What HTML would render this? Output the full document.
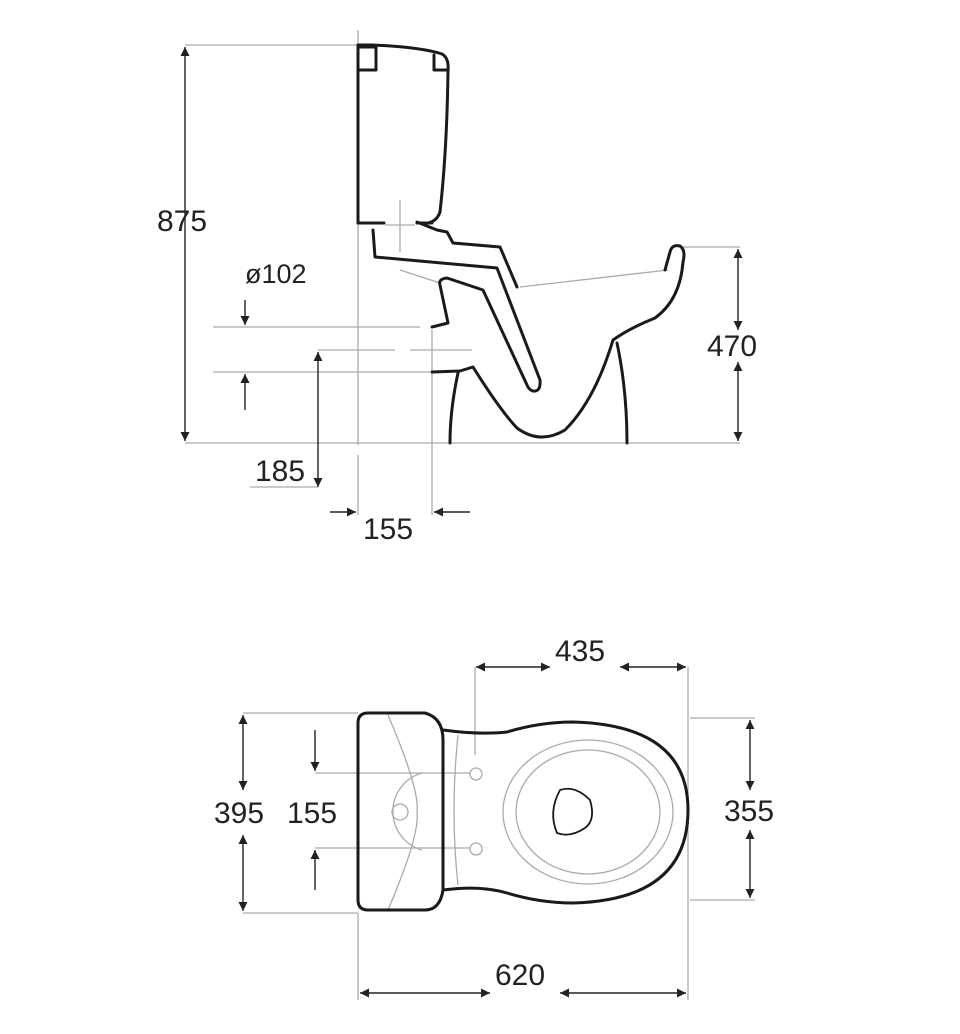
<!DOCTYPE html>
<html><head><meta charset="utf-8"><style>
html,body{margin:0;padding:0;background:#fff;}
svg{display:block;}
text{font-family:"Liberation Sans",sans-serif;font-size:30px;fill:#222;}
</style></head><body>
<svg width="960" height="1034" viewBox="0 0 960 1034" xmlns="http://www.w3.org/2000/svg">
<defs>
<marker id="a" viewBox="0 0 10 10" refX="10" refY="5" markerWidth="12" markerHeight="9" orient="auto-start-reverse" markerUnits="userSpaceOnUse"><path d="M0,0 L10,5 L0,10 Z" fill="#222"/></marker>
</defs>
<g stroke="#aaa" stroke-width="1.3" fill="none">
<line x1="185" y1="45" x2="358" y2="45"/>
<line x1="358" y1="30" x2="358" y2="445"/>
<line x1="358" y1="455" x2="358" y2="515"/>
<line x1="185" y1="443" x2="740" y2="443"/>
<line x1="213" y1="327" x2="420" y2="327"/>
<line x1="213" y1="372" x2="430" y2="372"/>
<line x1="318" y1="350" x2="395" y2="350"/>
<line x1="410" y1="350" x2="472" y2="350"/>
<line x1="432" y1="330" x2="432" y2="515"/>
<line x1="250" y1="487" x2="318" y2="487"/>
<line x1="680" y1="247" x2="740" y2="247"/>
<line x1="520" y1="287" x2="668" y2="270"/>
<line x1="400" y1="270" x2="440" y2="283"/>
<line x1="400" y1="200" x2="400" y2="252"/>
<line x1="385" y1="225" x2="415" y2="225"/>
<line x1="475" y1="667" x2="475" y2="755"/>
<line x1="688" y1="667" x2="688" y2="1000"/>
<line x1="358" y1="913" x2="358" y2="1000"/>
<line x1="243" y1="713" x2="358" y2="713"/>
<line x1="243" y1="913" x2="358" y2="913"/>
<line x1="315" y1="773" x2="470" y2="773"/>
<line x1="315" y1="848" x2="470" y2="848"/>
<line x1="690" y1="718" x2="755" y2="718"/>
<line x1="690" y1="900" x2="755" y2="900"/>
<ellipse cx="588" cy="812" rx="85" ry="72"/>
<ellipse cx="588" cy="812" rx="72" ry="62"/>
<circle cx="476" cy="774" r="6"/>
<circle cx="476" cy="849" r="6"/>
<circle cx="400" cy="812" r="8"/>
<path d="M422,773 A40,40 0 0 0 422,850"/>
<path d="M388,715 Q420,790 417,812 Q420,835 388,910"/>
<path d="M458,735 Q450,812 458,885"/>
</g>
<g stroke="#222" stroke-width="1.4" fill="none" marker-start="url(#a)" marker-end="url(#a)">
<line x1="185" y1="47" x2="185" y2="441"/>
<line x1="738" y1="249" x2="738" y2="330"/>
<line x1="738" y1="362" x2="738" y2="441"/>
<line x1="476" y1="667" x2="550" y2="667"/>
<line x1="620" y1="667" x2="686" y2="667"/>
<line x1="360" y1="993" x2="490" y2="993"/>
<line x1="560" y1="993" x2="686" y2="993"/>
<line x1="243" y1="715" x2="243" y2="790"/>
<line x1="243" y1="835" x2="243" y2="911"/>
<line x1="750" y1="720" x2="750" y2="790"/>
<line x1="750" y1="830" x2="750" y2="898"/>
</g>
<g stroke="#222" stroke-width="1.4" fill="none">
<line x1="245" y1="300" x2="245" y2="325" marker-end="url(#a)"/>
<line x1="245" y1="410" x2="245" y2="374" marker-end="url(#a)"/>
<line x1="318" y1="352" x2="318" y2="487" marker-start="url(#a)" marker-end="url(#a)"/>
<line x1="330" y1="512" x2="356" y2="512" marker-end="url(#a)"/>
<line x1="470" y1="512" x2="434" y2="512" marker-end="url(#a)"/>
<line x1="315" y1="730" x2="315" y2="771" marker-end="url(#a)"/>
<line x1="315" y1="890" x2="315" y2="850" marker-end="url(#a)"/>
</g>
<g stroke="#1a1a1a" stroke-width="3" fill="none" stroke-linejoin="round" stroke-linecap="round">
<path d="M358,223 L358,45 L372,45 Q420,47 442,54 Q449,58 448,70 Q447,150 440,212 Q437,221 428,223"/>
<path d="M358,223 L384,223 M417,223 L432,223"/>
<path d="M358,47 L376,47 L376,70 L358,70 M434,55 L434,70 L447,70"/>
<path d="M373,230 L375,257 L497,268 L540,380 Q541,392 533,391 Q529,390 527,385 L483,290 L447,278 Q438,279 440,285 L448,323 L432,327"/>
<path d="M417,222 L437,230 L447,232 L453,243 L500,247 L517,287"/>
<path d="M432,372 L460,371 L473,367 Q500,410 517,428 Q540,445 565,430 Q595,400 613,340 Q630,328 655,318 Q680,300 683,262 Q686,250 680,246 Q672,244 670,252 L665,270"/>
<path d="M458,373 Q450,410 450,443"/>
<path d="M617,343 Q627,390 627,443"/>
<path d="M368,713 L425,713 Q443,718 443,740 L443,890 Q440,910 425,910 L368,910 Q358,910 358,900 L358,723 Q358,713 368,713 Z"/>
<path d="M443,730 Q480,735 507,732 Q540,722 573,722 Q688,725 688,810 Q688,900 573,903 Q540,903 507,893 Q480,885 443,890"/>
<path stroke-width="1.8" d="M560,790 Q575,785 590,800 Q596,820 585,828 Q570,838 557,833 Q548,812 560,790 Z"/>
</g>
<text x="157" y="231">875</text>
<text x="245" y="283" style="font-size:27px">ø102</text>
<text x="255" y="481">185</text>
<text x="363" y="539">155</text>
<text x="707" y="356">470</text>
<text x="555" y="661">435</text>
<text x="214" y="823">395</text>
<text x="287" y="823">155</text>
<text x="724" y="821">355</text>
<text x="495" y="985">620</text>
</svg>
</body></html>
